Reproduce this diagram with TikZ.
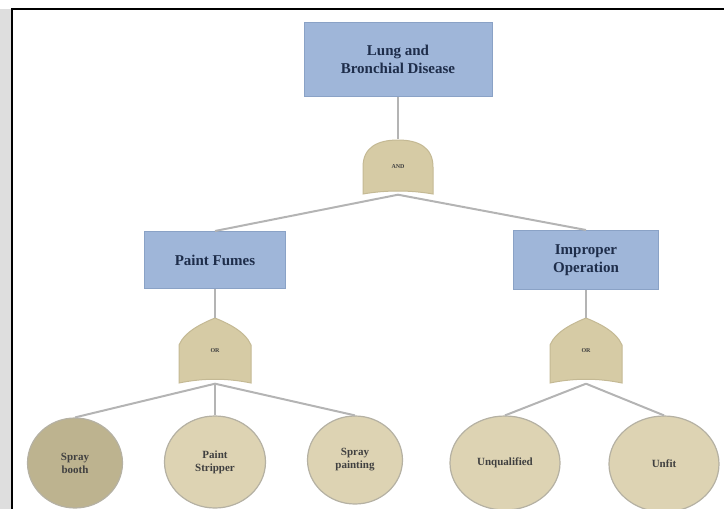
\documentclass[tikz,border=0pt]{standalone}
\usepackage{fontspec}
\setmainfont{Liberation Serif}
\usetikzlibrary{shapes.geometric, backgrounds}

\definecolor{boxfill}{HTML}{9FB6D9}
\definecolor{boxline}{HTML}{8AA2C6}
\definecolor{boxtext}{HTML}{1E2D4A}
\definecolor{gatefill}{HTML}{D6CBA5}
\definecolor{gateline}{HTML}{C4B994}
\definecolor{eventfill}{HTML}{DDD3B3}
\definecolor{eventdark}{HTML}{BDB38F}
\definecolor{eventline}{HTML}{B5B1A3}
\definecolor{linkgray}{HTML}{B4B4B4}
\definecolor{stripgray}{HTML}{DEDEDE}

\begin{document}
\begin{tikzpicture}[%
        x = 1pt, y = -1pt,
        fault box/.style = {%
          fill = boxfill,
          draw = boxline,
          line width = 1pt,
          text = boxtext,
          align = center,
          font = \fontsize{15}{18}\selectfont\bfseries,
        },
        gate/.style = {%
          minimum width = 70pt,
          minimum height = 55pt,
          inner sep = 0pt,
          text = black!75,
          font = \fontsize{6}{7}\selectfont\bfseries,
        },
        event/.style = {%
          ellipse,
          fill = eventfill,
          draw = eventline,
          line width = 1.2pt,
          inner sep = 0pt,
          align = center,
          text = black!75,
          font = \fontsize{11}{13}\selectfont\bfseries,
        },
        link/.style = {%
          draw = linkgray,
          line width = 2pt,
        },
      ]
      \useasboundingbox (0,0) rectangle (724,509);

      % frame
      \fill[stripgray] (0,9) rectangle (11,509);
      \draw[line width=2pt] (724,9) -- (12,9) -- (12,509);

      % top event and gates
      \node[fault box, minimum width=188pt, minimum height=74pt] (root) at (398,59) {Lung and\\Bronchial Disease};
      \node[gate] (and) at (398,167) {AND};
      \node[fault box, minimum width=141pt, minimum height=57pt] (paint) at (215,260) {Paint Fumes};
      \node[fault box, minimum width=145pt, minimum height=59pt] (improper) at (586,260) {Improper\\Operation};
      \node[gate, minimum width=72pt, minimum height=65pt] (orleft) at (215,351) {OR};
      \node[gate, minimum width=72pt, minimum height=65pt] (orright) at (586,351) {OR};

      % basic events
      \node[event, fill=eventdark, minimum width=95pt, minimum height=90pt] (booth) at (75,463) {Spray\\booth};
      \node[event, minimum width=101pt, minimum height=92pt] (stripper) at (215,462) {Paint\\Stripper};
      \node[event, minimum width=95pt, minimum height=88pt] (spraying) at (355,460) {Spray\\painting};
      \node[event, minimum width=110pt, minimum height=94pt] (unqualified) at (505,463) {Unqualified};
      \node[event, minimum width=110pt, minimum height=96pt] (unfit) at (664,464) {Unfit};

      % gate outlines
      \begin{pgfonlayer}{background}
        \begin{scope}[shift={(and.center)}]
          \filldraw[fill=gatefill, draw=gateline, line width=1pt]
            (-35,27) -- (-35,0) .. controls (-35,-20) and (-20,-27) .. (0,-27)
            .. controls (20,-27) and (35,-20) .. (35,0) -- (35,27)
            .. controls (12,23) and (-12,23) .. cycle;
        \end{scope}
        \foreach \g in {orleft, orright} {
          \begin{scope}[shift={(\g.center)}]
            \filldraw[fill=gatefill, draw=gateline, line width=1pt]
              (-36,32) -- (-36,-6) .. controls (-30,-20) and (-12,-28) .. (0,-33)
              .. controls (12,-28) and (30,-20) .. (36,-6) -- (36,32)
              .. controls (12,27) and (-12,27) .. cycle;
          \end{scope}
        }
      \end{pgfonlayer}

      % connectors
      \draw[link] (root.south) -- (and.north);
      \draw[link] (and.south) -- (paint.north);
      \draw[link] (and.south) -- (improper.north);
      \draw[link] (paint.south) -- (orleft.north);
      \draw[link] (improper.south) -- (orright.north);
      \foreach \e in {booth, stripper, spraying}
        \draw[link] (orleft.south) -- (\e.north);
      \foreach \e in {unqualified, unfit}
        \draw[link] (orright.south) -- (\e.north);
    \end{tikzpicture}
\end{document}
